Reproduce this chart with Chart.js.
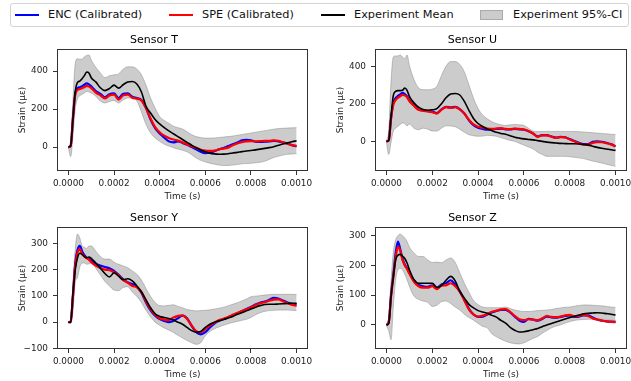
<!DOCTYPE html>
<html>
<head>
<meta charset="utf-8">
<script src="https://cdn.jsdelivr.net/npm/chart.js@4.4.0/dist/chart.umd.min.js"></script>
<style>
  html, body { margin: 0; padding: 0; background: #fff; overflow: hidden; }
  body { width: 631px; height: 381px; position: relative; font-family: "DejaVu Sans", sans-serif; }
  canvas { position: absolute; }
  #legend { position: absolute; left: 10px; top: 3px; width: 619px; height: 24px; border: 1px solid #d4d4d4; border-radius: 3px; box-sizing: border-box; background: #fff; }
  .txt { position: absolute; top: 0; line-height: 22px; font-size: 11.3px; color: #111; white-space: nowrap; }
  .ln { position: absolute; top: 10px; width: 24px; height: 2px; }
  .patch { position: absolute; top: 6px; width: 23px; height: 10px; background: rgba(128,128,128,0.4); border: 1px solid rgba(128,128,128,0.45); box-sizing: border-box; }
</style>
</head>
<body>
<div id="legend">
  <div class="ln" style="left:4px;background:#0000ff"></div><div class="txt" style="left:37px">ENC (Calibrated)</div>
  <div class="ln" style="left:158px;background:#ff0000"></div><div class="txt" style="left:191px">SPE (Calibrated)</div>
  <div class="ln" style="left:310px;background:#000"></div><div class="txt" style="left:343px">Experiment Mean</div>
  <div class="patch" style="left:469px"></div><div class="txt" style="left:502px">Experiment 95%-CI</div>
</div>
<canvas id="cT" width="328" height="169" style="left:0px;top:34px"></canvas>
<canvas id="cU" width="329" height="169" style="left:318px;top:34px"></canvas>
<canvas id="cY" width="328" height="169" style="left:0px;top:212px"></canvas>
<canvas id="cZ" width="329" height="169" style="left:318px;top:212px"></canvas>
<script>
const FONT = '"DejaVu Sans", sans-serif';

// time samples (s)
const time = [0, 0.00001, 0.00002, 0.00003, 0.00004, 0.00005, 0.00006, 0.00007, 0.00008, 0.00009, 0.0001,
  0.00012, 0.00014, 0.00016, 0.00018, 0.0002, 0.00022, 0.00024, 0.00026, 0.00028,
  0.0003, 0.00032, 0.00034, 0.00036, 0.00038, 0.0004, 0.00042, 0.00044, 0.00046,
  0.00048, 0.0005, 0.00052, 0.00054, 0.00056, 0.00058, 0.0006, 0.00062, 0.00064,
  0.00066, 0.00068, 0.0007, 0.00072, 0.00074, 0.00076, 0.00078, 0.0008, 0.00082,
  0.00084, 0.00086, 0.00088, 0.0009, 0.00092, 0.00094, 0.00096, 0.00098, 0.001];

const xTicks = [0, 0.0002, 0.0004, 0.0006, 0.0008, 0.001];

// Sensor T
const tMean = [0, 8, 150, 290, 340, 347, 360, 376, 395, 390, 365,
  343, 312, 297, 308, 326, 310, 328, 342, 345,
  332, 290, 215, 179, 145, 122, 102, 85, 70,
  55, 40, 25, 10, -4, -15, -25, -32, -36,
  -38, -37, -35, -31, -28, -24, -21, -18, -15,
  -11, -7, -3, 2, 9, 16, 22, 28, 33];
const tSpe = [0, 5, 150, 275, 300, 305, 310, 315, 322, 318, 310,
  287, 272, 256, 272, 276, 250, 272, 276, 260,
  255, 245, 205, 150, 105, 78, 60, 48, 40,
  34, 25, 14, 5, -4, -14, -19, -20, -19,
  -12, -8, -3, 10, 19, 26, 30, 31, 30,
  31, 33, 33, 35, 33, 25, 18, 10, 7];
const tEnc = [0, 5, 155, 285, 310, 315, 320, 328, 335, 330, 320,
  295, 280, 262, 278, 282, 258, 280, 282, 265,
  258, 248, 205, 145, 100, 72, 50, 30, 25,
  30, 22, 12, 0, -12, -25, -32, -30, -22,
  -12, -5, 5, 15, 24, 35, 38, 36, 28,
  27, 28, 30, 33, 30, 25, 18, 10, 3];
const tUpper = [0, 40, 250, 440, 465, 462, 462, 475, 482, 485, 458,
  420, 390, 365, 375, 380, 385, 410, 422, 422,
  410, 380, 325, 258, 205, 160, 140, 125, 110,
  102, 95, 80, 65, 55, 50, 47, 47, 48,
  50, 53, 55, 58, 62, 66, 70, 74, 78,
  82, 86, 90, 94, 97, 99, 100, 101, 102];
const tLower = [-5, -50, 60, 200, 255, 270, 278, 285, 292, 290, 285,
  268, 242, 232, 240, 245, 232, 248, 258, 255,
  243, 185, 120, 75, 48, 30, 15, 5, -3,
  -10, -17, -25, -40, -58, -70, -78, -85, -90,
  -95, -97, -97, -95, -92, -88, -87, -85, -83,
  -80, -75, -65, -55, -48, -42, -38, -36, -35];

// Sensor U
const uMean = [0, 5, 130, 245, 266, 270, 270, 272, 284, 272, 240,
  205, 182, 170, 166, 168, 174, 200, 232, 252,
  255, 247, 213, 165, 122, 95, 79, 66, 57,
  48, 42, 38, 30, 22, 17, 13, 10, 8,
  4, 0, -4, -7, -9, -11, -12, -13, -13,
  -14, -16, -20, -26, -32, -37, -41, -45, -48];
const uSpe = [0, 5, 120, 195, 220, 232, 240, 248, 245, 235, 215,
  190, 168, 163, 160, 155, 148, 168, 182, 178,
  182, 170, 148, 115, 90, 78, 73, 68, 66,
  68, 70, 66, 65, 68, 66, 64, 55, 42,
  24, 32, 32, 25, 18, 22, 21, 10, 0,
  -10, -18, -18, -8, -4, -5, -10, -16, -27];
const uEnc = [0, 5, 125, 205, 230, 242, 250, 258, 252, 240, 218,
  192, 170, 165, 162, 158, 150, 170, 184, 180,
  184, 172, 148, 112, 86, 72, 66, 62, 64,
  66, 68, 64, 63, 66, 64, 62, 54, 42,
  26, 33, 33, 26, 20, 24, 22, 12, 2,
  -8, -15, -14, -3, 0, -2, -8, -15, -25];
const uUpper = [0, 60, 320, 450, 455, 455, 460, 450, 440, 460, 405,
  330, 285, 275, 275, 278, 293, 350, 400, 425,
  425, 410, 370, 300, 230, 175, 140, 120, 105,
  95, 88, 85, 88, 90, 88, 85, 70, 55,
  52, 52, 53, 53, 53, 53, 53, 53, 52,
  51, 50, 48, 46, 44, 42, 40, 38, 36];
const uLower = [-9, -70, -5, 55, 70, 80, 90, 98, 95, 82, 92,
  70, 62, 70, 65, 55, 55, 70, 83, 82,
  78, 65, 48, 35, 30, 27, 28, 32, 30,
  27, 20, 12, 5, 0, -10, -20, -30, -40,
  -58, -70, -80, -80, -80, -80, -80, -82, -85,
  -88, -92, -98, -105, -110, -116, -122, -128, -133];

// Sensor Y
const yMean = [0, -1, 110, 200, 245, 262, 258, 250, 245, 248, 243,
  225, 205, 185, 172, 188, 175, 162, 165, 157,
  138, 115, 85, 55, 32, 22, 18, 14, 8,
  0, -8, -20, -32, -38, -35, -20, -8, 0,
  5, 10, 16, 22, 30, 36, 43, 50, 57,
  63, 67, 68, 68, 69, 70, 71, 72, 72];
const ySpe = [0, 3, 100, 215, 265, 278, 260, 250, 243, 238, 228,
  215, 206, 200, 198, 190, 178, 160, 150, 138,
  133, 115, 80, 50, 28, 15, 10, 8, 18,
  24, 26, 12, -12, -34, -38, -25, -12, -2,
  8, 13, 20, 28, 35, 42, 49, 56, 65,
  72, 76, 82, 86, 87, 80, 72, 66, 62];
const yEnc = [0, 3, 105, 225, 275, 290, 270, 255, 245, 240, 235,
  222, 215, 210, 205, 195, 180, 163, 152, 145,
  135, 112, 75, 45, 25, 12, 5, 0, 5,
  15, 25, 15, -14, -38, -46, -38, -20, -5,
  5, 12, 18, 26, 34, 42, 50, 58, 67,
  74, 78, 85, 93, 90, 82, 75, 70, 68];
const yUpper = [0, 5, 150, 280, 335, 320, 290, 285, 280, 290, 290,
  270, 250, 240, 240, 228, 220, 214, 207, 195,
  182, 160, 128, 98, 75, 63, 62, 64, 66,
  60, 55, 48, 45, 43, 44, 45, 47, 50,
  53, 57, 62, 68, 74, 81, 88, 97, 99,
  101, 103, 105, 106, 106, 106, 106, 106, 105];
const yLower = [-3, -5, 40, 150, 170, 210, 225, 225, 220, 222, 225,
  205, 180, 155, 138, 122, 120, 132, 135, 115,
  98, 75, 45, 20, 0, -12, -22, -30, -39,
  -50, -60, -70, -78, -84, -78, -52, -35, -25,
  -18, -12, -6, -1, 3, 7, 11, 18, 28,
  36, 41, 44, 45, 46, 46, 46, 45, 44];

// Sensor Z
const zMean = [0, 5, 95, 160, 218, 234, 237, 231, 223, 208, 186,
  152, 140, 140, 140, 140, 126, 132, 150, 163,
  148, 112, 90, 69, 57, 48, 43, 39, 32,
  26, 15, 6, -8, -18, -24, -23, -20, -16,
  -12, -6, 0, 5, 10, 15, 20, 25, 29,
  33, 37, 39, 40, 41, 40, 38, 36, 33];
const zSpe = [0, 10, 95, 160, 225, 262, 250, 218, 200, 188, 172,
  145, 130, 125, 125, 130, 120, 132, 133, 140,
  130, 112, 82, 52, 35, 28, 31, 37, 44,
  48, 52, 53, 44, 30, 19, 16, 19, 18,
  16, 22, 30, 27, 26, 28, 32, 34, 29,
  30, 34, 30, 22, 18, 15, 12, 10, 9];
const zEnc = [0, 8, 100, 170, 240, 280, 255, 222, 203, 190, 175,
  150, 135, 130, 128, 133, 124, 136, 140, 150,
  135, 114, 84, 54, 35, 27, 28, 35, 42,
  47, 50, 50, 42, 28, 15, 10, 20, 18,
  14, 20, 28, 25, 24, 27, 30, 32, 27,
  28, 32, 32, 25, 18, 14, 12, 11, 10];
const zUpper = [0, 30, 150, 245, 285, 300, 305, 300, 292, 280, 262,
  242, 230, 230, 218, 210, 211, 209, 218, 225,
  210, 175, 140, 110, 82, 68, 60, 58, 58,
  58, 58, 60, 55, 50, 47, 45, 45, 46,
  48, 49, 50, 52, 55, 57, 59, 60, 63,
  65, 67, 67, 66, 65, 64, 62, 60, 59];
const zLower = [-3, -20, -50, 60, 150, 185, 190, 185, 170, 152, 130,
  97, 86, 80, 76, 62, 66, 78, 80, 72,
  60, 50, 36, 25, 16, 5, -5, -10, -30,
  -40, -48, -55, -60, -63, -64, -60, -53, -45,
  -39, -28, -19, -10, -4, 0, 6, 11, 15,
  17, 18, 19, 19, 19, 19, 18, 16, 15];

const ciFill = 'rgba(128,128,128,0.4)';
const ciEdge = 'rgba(128,128,128,0.45)';

// full box round the plot area, like matplotlib spines
const frame = {
  id: 'frame',
  afterDatasetsDraw(chart) {
    const a = chart.chartArea, ctx = chart.ctx;
    ctx.save();
    ctx.strokeStyle = '#333';
    ctx.lineWidth = 1;
    ctx.strokeRect(Math.round(a.left) + 0.5, Math.round(a.top) + 0.5, Math.round(a.width) - 1, Math.round(a.height) - 1);
    ctx.restore();
  }
};

function makeChart(id, title, yMin, yMax, yTicks, enc, spe, mean, upper, lower) {
  const pts = v => time.map((t, i) => ({x: t, y: v[i]}));
  const tickFont = {family: FONT, size: 8.9};
  return new Chart(document.getElementById(id), {
    type: 'line',
    data: {
      datasets: [
        {label: 'Experiment Mean', data: pts(mean), borderColor: '#000', borderWidth: 1.6, order: 0},
        {label: 'SPE (Calibrated)', data: pts(spe), borderColor: '#ff0000', borderWidth: 2.2, order: 1},
        {label: 'ENC (Calibrated)', data: pts(enc), borderColor: '#0000ff', borderWidth: 2.2, order: 2},
        {label: 'Experiment 95%-CI', data: pts(upper), borderColor: ciEdge, borderWidth: 1, backgroundColor: ciFill, fill: '+1', order: 3},
        {label: 'CI lower', data: pts(lower), borderColor: ciEdge, borderWidth: 1, fill: false, order: 4}
      ]
    },
    options: {
      responsive: false,
      animation: false,
      devicePixelRatio: 1,
      layout: {padding: {left: 0, right: 20, top: 0, bottom: 0}},
      elements: {point: {radius: 0}, line: {cubicInterpolationMode: 'monotone'}},
      plugins: {
        legend: {display: false},
        tooltip: {enabled: false},
        title: {
          display: true, text: title, color: '#000',
          font: {family: FONT, size: 11, weight: 'normal', lineHeight: '12px'},
          padding: {top: 0, bottom: 3}
        }
      },
      scales: {
        x: {
          type: 'linear', min: -0.00005, max: 0.00105,
          afterFit: s => { s.height = 32; },
          afterBuildTicks: s => { s.ticks = xTicks.map(v => ({value: v})); },
          ticks: {font: tickFont, color: '#222', padding: 3, maxRotation: 0, autoSkip: false,
            callback: v => v.toFixed(4)},
          grid: {display: true, drawOnChartArea: false, drawTicks: true, tickLength: 4, color: '#333'},
          border: {display: false},
          title: {display: true, text: 'Time (s)', color: '#222',
            font: {family: FONT, size: 8.9, lineHeight: '10px'}, padding: {top: 0, bottom: 1}}
        },
        y: {
          type: 'linear', min: yMin, max: yMax,
          afterFit: s => { s.width = 57; },
          afterBuildTicks: s => { s.ticks = yTicks.map(v => ({value: v})); },
          ticks: {font: tickFont, color: '#222', padding: 5,
            callback: v => v < 0 ? '\u2212' + Math.abs(v) : String(v)},
          grid: {display: true, drawOnChartArea: false, drawTicks: true, tickLength: 4, color: '#333'},
          border: {display: false},
          title: {display: true, text: 'Strain (με)', color: '#222',
            font: {family: FONT, size: 8.9, lineHeight: '10px'}, padding: {top: 17.5, bottom: 0}}
        }
      }
    },
    plugins: [frame]
  });
}

makeChart('cT', 'Sensor T', -126, 516, [0, 200, 400], tEnc, tSpe, tMean, tUpper, tLower);
makeChart('cU', 'Sensor U', -158, 492, [0, 200, 400], uEnc, uSpe, uMean, uUpper, uLower);
makeChart('cY', 'Sensor Y', -102, 362, [-100, 0, 100, 200, 300], yEnc, ySpe, yMean, yUpper, yLower);
makeChart('cZ', 'Sensor Z', -81, 329, [0, 100, 200, 300], zEnc, zSpe, zMean, zUpper, zLower);
</script>
</body>
</html>
